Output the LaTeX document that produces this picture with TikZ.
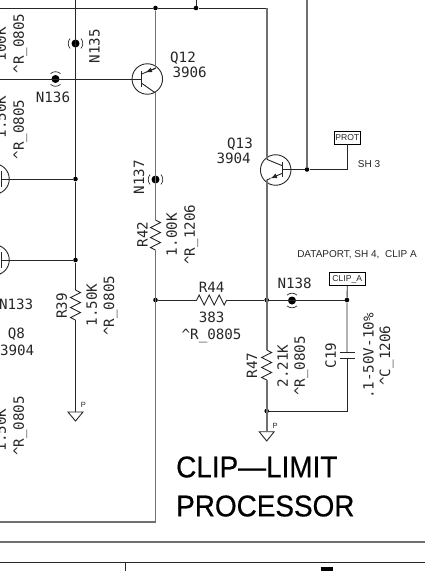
\documentclass[tikz,border=0pt]{standalone}
\usepackage{xcolor}
\usepackage{fontspec}
\usetikzlibrary{arrows.meta,decorations.pathmorphing}
\setmainfont{Liberation Sans}
\newfontfamily\cadfont{DejaVu Sans Mono}
\newfontfamily\titlefont[FakeBold=0.5]{Liberation Sans}
\definecolor{wiregray}{HTML}{707070}
\tikzset{
  wire/.style={draw=black!85,line width=0.9pt},
  fatwire/.style={draw=wiregray,line width=1.8pt},
  reslabel/.style={font=\cadfont\fontsize{14.2}{14.2}\selectfont,text=black!85,inner sep=0pt,text height=10.4pt,text depth=0pt},
  sidelabel/.style={reslabel,rotate=90},
  smalllabel/.style={font=\fontsize{10}{10}\selectfont,text=black!85,inner sep=0pt},
  titlelabel/.style={font=\titlefont\fontsize{30}{30}\selectfont,inner sep=0pt,anchor=west,xscale=0.93},
  portbox/.style={draw=black,line width=0.9pt,inner sep=0pt,font=\fontsize{8.6}{9}\selectfont,text=black!85},
  junction/.style={circle,fill=black,inner sep=0pt,minimum size=4.6pt},
  probe/.style={circle,fill=black,inner sep=0pt,minimum size=8pt},
  transcircle/.style={circle,draw=black!85,line width=0.9pt,inner sep=0pt,minimum size=30.5pt},
  resistor/.style={wire,decorate,decoration={zigzag,segment length=10pt,amplitude=5pt}},
  gndtri/.style={draw=black!85,line width=0.9pt,line join=miter},
  tip/.style={-{Latex[length=6.5pt,width=5pt]}}
}
\newcommand{\probeparens}[2]{
  \draw[black!85,line width=0.7pt] (#1)++(#2+42:7.3) arc (#2+42:#2-42:7.3);
  \draw[black!85,line width=0.7pt] (#1)++(#2+222:7.3) arc (#2+222:#2+138:7.3);
}
\begin{document}
\begin{tikzpicture}[x=1pt,y=-1pt]
  \useasboundingbox (0,0) rectangle (425,571);

  \coordinate (toptie) at (196,0);
  \coordinate (topleft) at (0,8);
  \coordinate (leftbus) at (75.5,0);
  \coordinate (protbus) at (307,0);
  \coordinate (botleft) at (0,522);
  \coordinate (botcorner) at (155.5,522);
  \coordinate (q12base) at (0,79);
  \coordinate (q8a) at (1,179);
  \coordinate (q8b) at (1,260);
  \node[junction] (j1) at (155.5,8) {};
  \node[junction] (j2) at (196,8) {};
  \coordinate (topcorner) at (266.7,8);
  \node[junction] (j3) at (75.5,179) {};
  \node[junction] (j4) at (75.5,260) {};
  \node[junction] (j5) at (155.5,300) {};
  \node[junction] (j6) at (266.7,300) {};
  \node[junction] (j7) at (347,300) {};
  \node[junction] (j8) at (266.7,411) {};
  \node[junction] (j9) at (307,169.5) {};
  \coordinate (capcorner) at (347,411);

  \node[probe] (n135) at (75.5,43.5) {};
  \node[probe] (n136) at (55.5,79) {};
  \node[probe] (n137) at (155.5,179.5) {};
  \node[probe] (n138) at (292,300.5) {};
  \probeparens{n135}{0}
  \probeparens{n136}{90}
  \probeparens{n137}{0}
  \probeparens{n138}{90}

  \node[transcircle] (q12) at (147.3,79) {};
  \node[transcircle] (q13) at (275.7,170) {};
  \node[transcircle] (q8top) at (-6,179) {};
  \node[transcircle] (q8bot) at (-6,260) {};

  \coordinate (q12bar1) at (141.7,70.5);
  \coordinate (q12bar2) at (141.7,87);
  \coordinate (q12bar) at (141.7,79);
  \coordinate (q12e1) at (141.7,74);
  \coordinate (q12e2) at (145.5,72.4);
  \coordinate (q12e3) at (155.5,68.3);
  \coordinate (q12c1) at (141.7,83.3);
  \coordinate (q12c2) at (155.5,93);
  \draw[wire] (q12bar1) -- (q12bar2);
  \draw[wire] (q12c1) -- (q12c2);
  \draw[wire] (q12e1) -- (q12e3);
  \draw[wire,tip] (q12e3) -- (q12e2);

  \coordinate (q13bar1) at (282.3,162);
  \coordinate (q13bar2) at (282.3,177);
  \coordinate (q13bar) at (282.3,169.5);
  \coordinate (q13c1) at (282.3,165.7);
  \coordinate (q13c2) at (266.7,159.3);
  \coordinate (q13e1) at (282.3,173.3);
  \coordinate (q13e2) at (270.5,178.4);
  \coordinate (q13e3) at (266.7,180);
  \draw[wire] (q13bar1) -- (q13bar2);
  \draw[wire] (q13c1) -- (q13c2);
  \draw[wire,tip] (q13e1) -- (q13e2);
  \draw[wire] (q13e2) -- (q13e3);

  \coordinate (r42a) at (155.5,220);
  \coordinate (r42b) at (155.5,250);
  \coordinate (r39a) at (75.5,290);
  \coordinate (r39b) at (75.5,320);
  \coordinate (r44a) at (196.7,300);
  \coordinate (r44b) at (226.7,300);
  \coordinate (r47a) at (266.7,350);
  \coordinate (r47b) at (266.7,380);
  \coordinate (c19a) at (347,352.7);
  \coordinate (c19b) at (347,358.3);
  \coordinate (c19al) at (339.5,352.7);
  \coordinate (c19ar) at (355,352.7);
  \coordinate (c19bl) at (339.5,358.3);
  \coordinate (c19br) at (355,358.3);

  \draw[resistor] (r42a) -- (r42b);
  \draw[resistor] (r39a) -- (r39b);
  \draw[resistor] (r44a) -- (r44b);
  \draw[resistor] (r47a) -- (r47b);
  \draw[wire] (c19al) -- (c19ar);
  \draw[wire] (c19bl) -- (c19br);

  \coordinate (gnd1) at (75.5,412);
  \coordinate (gnd1l) at (68,412);
  \coordinate (gnd1r) at (83,412);
  \coordinate (gnd1t) at (75.5,421);
  \coordinate (gnd2) at (266.7,431.7);
  \coordinate (gnd2l) at (259.2,431.7);
  \coordinate (gnd2r) at (274.2,431.7);
  \coordinate (gnd2t) at (266.7,441);
  \draw[gndtri] (gnd1l) -- (gnd1r) -- (gnd1t) -- cycle;
  \draw[gndtri] (gnd2l) -- (gnd2r) -- (gnd2t) -- cycle;

  \node[portbox,minimum width=26.6pt,minimum height=13pt] (prot) at (347.3,137.5) {PROT};
  \node[portbox,minimum width=36.6pt,minimum height=12.6pt] (clipa) at (347.3,279) {CLIP\_A};

  \draw[wire] (topleft) -- (j1) -- (j2) -- (topcorner);
  \draw[wire] (toptie) -- (j2);
  \draw[wire] (leftbus) -- (j3) -- (j4) -- (r39a);
  \draw[wire] (r39b) -- (gnd1);
  \draw[wire] (q12base) -- (q12bar);
  \draw[wire] (q8a) -- (j3);
  \draw[wire] (q8b) -- (j4);
  \draw[wire] (j5) -- (r44a);
  \draw[wire] (r44b) -- (j6) -- (j7);
  \draw[wire] (q13bar) -- (j9) -| (prot.south);
  \draw[wire] (clipa.south) -- (j7) -- (c19a);
  \draw[wire] (c19b) -- (capcorner) -- (j8);
  \draw[fatwire] (j1) -- (q12e3);
  \draw[fatwire] (q12c2) -- (r42a);
  \draw[fatwire] (r42b) -- (botcorner) -- (botleft);
  \draw[fatwire] (topcorner) -- (q13c2);
  \draw[fatwire] (q13e3) -- (r47a);
  \draw[fatwire] (r47b) -- (gnd2);
  \draw[fatwire] (protbus) -- (j9);

  \draw[wire] (1,171) -- (1,187);
  \draw[wire] (1,252) -- (1,268);

  \coordinate (rule1l) at (0,542);
  \coordinate (rule1r) at (425,542);
  \coordinate (rule2l) at (0,562);
  \coordinate (rule2r) at (425,562);
  \coordinate (ruletick) at (125.7,562);
  \coordinate (ruletickb) at (125.7,571);
  \coordinate (digit1) at (320.5,569);
  \coordinate (digit2) at (333,569);
  \draw[fatwire] (rule1l) -- (rule1r);
  \draw[wire] (rule2l) -- (rule2r);
  \draw[wire] (ruletick) -- (ruletickb);
  \draw[black,line width=4.5pt] (digit1) -- (digit2);

  \begin{scope}[every node/.style={sidelabel}]
    \node (l135) at (94.3,46.3) {N135};
    \node (l137) at (139,177) {N137};
    \node (l42) at (142.3,234.7) {R42};
    \node (v42) at (171.7,234.7) {1.00K};
    \node (p42) at (189.7,234.7) {\textasciicircum R\_1206};
    \node (l39) at (61.7,305.8) {R39};
    \node (v39) at (91.7,305) {1.50K};
    \node (p39) at (109,305.8) {\textasciicircum R\_0805};
    \node (l47) at (252,365.7) {R47};
    \node (v47) at (282.7,366) {2.21K};
    \node (p47) at (299.7,366) {\textasciicircum R\_0805};
    \node (l19) at (330.7,355.7) {C19};
    \node (v19) at (368.3,356) {.1-50V-10\%};
    \node (p19) at (385,355.7) {\textasciicircum C\_1206};
    \node (p1) at (18.7,43.5) {\textasciicircum R\_0805};
    \node (p2) at (18.7,129.5) {\textasciicircum R\_0805};
    \node (p3) at (18.7,426) {\textasciicircum R\_0805};
    \node (v1) at (0.7,44) {100K};
    \node (v2) at (0.7,117) {1.50K};
    \node (v3) at (0.7,430) {1.50K};
  \end{scope}

  \begin{scope}[every node/.style={reslabel}]
    \node[anchor=west] (q12name) at (170,57) {Q12};
    \node[anchor=west] (q12type) at (172.3,72) {3906};
    \node (l136) at (53,97) {N136};
    \node[anchor=east] (l133) at (33.5,304) {N133};
    \node (q8name) at (16.5,333.7) {Q8};
    \node[anchor=east] (q8type) at (34.5,350) {3904};
    \node (q13name) at (240,143) {Q13};
    \node (q13type) at (233.7,158) {3904};
    \node (l44) at (211.6,287) {R44};
    \node (v44) at (211.6,317) {383};
    \node (p44) at (211.6,334) {\textasciicircum R\_0805};
    \node (l138) at (294.7,283.7) {N138};
  \end{scope}

  \node[smalllabel,font=\fontsize{7.5}{8}\selectfont] (g1p) at (83.5,405) {P};
  \node[smalllabel,font=\fontsize{7.5}{8}\selectfont] (g2p) at (275,425.6) {P};
  \node[smalllabel,anchor=west] (sh3) at (357.7,164) {SH 3};
  \node[smalllabel] (dataport) at (357,255) {DATAPORT, SH 4,\ \ CLIP A};

  \node[titlelabel] (title1) at (176,467) {CLIP—LIMIT};
  \node[titlelabel] (title2) at (176,506) {PROCESSOR};
\end{tikzpicture}
\end{document}
